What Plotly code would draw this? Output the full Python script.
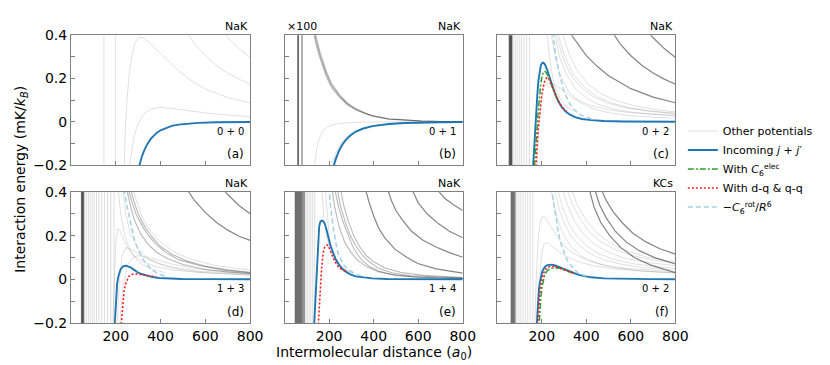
import plotly.graph_objects as go
from plotly.subplots import make_subplots

# Interaction potentials, energy in mK/kB vs distance R in bohr (a0)

# ---------- (a) NaK 0+0 ----------
A_IN_R = [300, 305, 316, 327, 340, 356, 370, 385, 400, 422, 450, 480, 520, 568, 650, 800]
A_IN_V = [-0.221, -0.2, -0.162, -0.132, -0.104, -0.079, -0.063, -0.049, -0.039, -0.029,
          -0.019, -0.013, -0.008, -0.005, -0.002, -0.0006]
A_WALLS = [147, 198]
A_LIGHT = [
    ([236, 242, 250, 260, 272, 285, 298, 308, 325, 350, 380, 420, 470, 530, 600, 700, 800],
     [-0.25, -0.05, 0.10, 0.22, 0.31, 0.36, 0.385, 0.39, 0.385, 0.365, 0.335, 0.295, 0.245, 0.195, 0.151, 0.112, 0.087]),
    ([258, 270, 280, 290, 300, 315, 330, 360, 400, 450, 500, 600, 700, 800],
     [-0.22, -0.132, -0.078, -0.039, -0.009, 0.02, 0.041, 0.060, 0.066, 0.062, 0.055, 0.041, 0.031, 0.024]),
    ([520, 550, 600, 650, 700, 750, 800], [0.41, 0.362, 0.305, 0.26, 0.225, 0.197, 0.173]),
    ([680, 700, 750, 800], [0.411, 0.388, 0.338, 0.297]),
]

# ---------- (b) NaK 0+1 (x100) ----------
B_IN_R = [215, 221, 230, 246, 260, 276, 295, 320, 350, 394, 468, 540, 615, 700, 800]
B_IN_V = [-0.223, -0.2, -0.171, -0.130, -0.104, -0.082, -0.063, -0.045, -0.032, -0.020,
          -0.0099, -0.0056, -0.0033, -0.002, -0.0012]
B_WALLS_DARK = [60, 61, 78]
B_LIGHT = [
    ([205, 212, 225, 245, 270, 300, 350, 420, 520, 650, 800],
     [-0.235, -0.2, -0.155, -0.11, -0.077, -0.052, -0.029, -0.014, -0.006, -0.0025, -0.001]),
    ([210, 217, 230, 250, 275, 305, 355, 425, 525, 650, 800],
     [-0.23, -0.2, -0.158, -0.115, -0.08, -0.054, -0.03, -0.015, -0.006, -0.0025, -0.001]),
    ([130, 137, 145, 155, 170, 190, 220, 260, 330, 450, 800],
     [-0.23, -0.17, -0.12, -0.08, -0.045, -0.024, -0.012, -0.006, -0.002, -0.0006, 0]),
]
B_BAND_R = [128, 140, 158, 175, 187, 210, 246, 280, 320, 360, 394, 468, 540, 615, 700, 800]
B_BAND = [
    [0.43, 0.36, 0.296, 0.24, 0.209, 0.16, 0.114, 0.08, 0.055, 0.038, 0.026, 0.012, 0.0065, 0.003, 0.0015, 0.0006],
    [0.45, 0.38, 0.31, 0.255, 0.222, 0.17, 0.12, 0.084, 0.058, 0.04, 0.028, 0.013, 0.007, 0.0035, 0.0017, 0.0007],
    [0.47, 0.40, 0.325, 0.268, 0.233, 0.178, 0.126, 0.088, 0.061, 0.042, 0.029, 0.014, 0.0075, 0.0037, 0.0018, 0.0008],
]

# ---------- (c) NaK 0+2 ----------
C_IN_R = [158, 161, 165, 170, 175, 180, 185, 190, 196, 202, 207, 214, 224, 235, 246, 260, 275,
          290, 305, 325, 349, 380, 422, 480, 568, 680, 800]
C_IN_V = [-0.26, -0.2, -0.12, -0.024, 0.06, 0.124, 0.19, 0.235, 0.262, 0.271, 0.273, 0.265, 0.241,
          0.205, 0.168, 0.128, 0.094, 0.068, 0.05, 0.034, 0.022, 0.013, 0.008, 0.004, 0.0015, 0.0005, 0]
C_C6_R = [163, 168, 173, 178, 184, 190, 196, 202, 209, 216, 224, 235, 246, 260, 275]
C_C6_V = [-0.26, -0.2, -0.12, -0.04, 0.05, 0.125, 0.18, 0.215, 0.232, 0.232, 0.22, 0.195, 0.164, 0.127, 0.094]
C_DQ_R = [170, 173, 178, 183, 188, 195, 202, 210, 217, 224, 232, 239, 250, 261, 275, 290, 310]
C_DQ_V = [-0.26, -0.2, -0.12, -0.05, 0.006, 0.08, 0.138, 0.178, 0.197, 0.204, 0.198, 0.182, 0.155,
          0.125, 0.095, 0.07, 0.047]
C_ROT_R = [245, 250, 262, 275, 286, 297, 308, 319, 330, 341, 352, 363, 380, 400, 430]
C_ROT_V = [0.45, 0.40, 0.31, 0.24, 0.19, 0.15, 0.12, 0.095, 0.076, 0.061, 0.049, 0.040, 0.030, 0.020, 0.012]
C_WALLS_DARK = [54, 57, 60, 63, 66]
C_WALLS_LIGHT = [75, 83, 92, 101, 110, 120, 132, 145]
C_LIGHT = [
    ([255, 280, 310, 350, 400, 460, 530, 620, 700, 800], [0.42, 0.30, 0.22, 0.155, 0.11, 0.078, 0.057, 0.042, 0.034, 0.028]),
    ([270, 300, 340, 390, 450, 520, 600, 700, 800], [0.42, 0.31, 0.22, 0.16, 0.115, 0.085, 0.063, 0.047, 0.037]),
    ([290, 320, 360, 410, 470, 540, 620, 700, 800], [0.42, 0.32, 0.235, 0.172, 0.127, 0.095, 0.073, 0.058, 0.046]),
    ([240, 260, 285, 320, 370, 430, 500, 600, 700, 800], [0.42, 0.3, 0.21, 0.14, 0.09, 0.06, 0.042, 0.028, 0.021, 0.017]),
    ([178, 185, 195, 210, 230, 260, 300, 350, 420, 500, 600, 800], [-0.25, -0.05, 0.1, 0.16, 0.18, 0.17, 0.14, 0.105, 0.075, 0.055, 0.042, 0.03]),
    ([222, 235, 250, 270, 300, 340], [0.42, 0.3, 0.2, 0.13, 0.08, 0.05]),
    ([262, 290, 325, 370, 425, 490, 570, 680, 800], [0.42, 0.31, 0.225, 0.165, 0.12, 0.088, 0.066, 0.05, 0.04]),
]
C_DARK = [
    ([320, 340, 370, 400, 450, 500, 600, 700, 800], [0.42, 0.39, 0.345, 0.305, 0.255, 0.213, 0.153, 0.114, 0.088]),
    ([520, 550, 600, 650, 700, 750, 800], [0.41, 0.362, 0.305, 0.26, 0.225, 0.197, 0.173]),
    ([680, 700, 750, 800], [0.411, 0.388, 0.338, 0.297]),
]

# ---------- (d) NaK 1+3 ----------
D_IN_R = [190, 196, 202, 206, 210, 215, 220, 227, 234, 246, 257, 268, 282, 297, 315, 334, 360, 393,
          440, 495, 600, 800]
D_IN_V = [-0.3, -0.2, -0.067, -0.02, 0.006, 0.028, 0.042, 0.053, 0.06, 0.062, 0.059, 0.053, 0.043,
          0.032, 0.024, 0.018, 0.011, 0.006, 0.003, 0.0015, 0.0005, 0]
D_DQ_R = [220, 224, 231, 237, 243, 250, 258, 266, 275, 290, 305, 325, 349, 380]
D_DQ_V = [-0.26, -0.2, -0.097, -0.055, -0.023, -0.002, 0.013, 0.02, 0.023, 0.024, 0.023, 0.021, 0.016, 0.011]
D_ROT_R = [234, 239, 250, 261, 272, 283, 294, 305, 320, 334, 349, 363, 380, 393, 420]
D_ROT_V = [0.45, 0.40, 0.335, 0.284, 0.226, 0.182, 0.15, 0.123, 0.095, 0.072, 0.055, 0.042, 0.031, 0.024, 0.014]
D_WALLS_DARK = [47, 50, 53, 56]
D_WALLS_LIGHT = [62, 70, 78, 86, 95, 104, 114, 125, 137, 150, 163, 178, 192]
D_LIGHT = [
    ([185, 192, 200, 210, 220, 235, 255, 280, 320, 380, 460, 560, 680, 800],
     [-0.25, 0.0, 0.17, 0.233, 0.22, 0.18, 0.14, 0.11, 0.08, 0.057, 0.042, 0.032, 0.025, 0.02]),
    ([205, 215, 228, 246, 265, 290, 330, 390, 470, 580, 800],
     [-0.25, -0.02, 0.11, 0.145, 0.14, 0.125, 0.1, 0.073, 0.052, 0.037, 0.024]),
    ([215, 230, 250, 275, 297, 330, 380, 450, 550, 680, 800],
     [-0.25, -0.05, 0.06, 0.098, 0.108, 0.104, 0.09, 0.07, 0.05, 0.036, 0.028]),
    ([230, 245, 265, 300, 350, 420, 500, 600, 800], [0.42, 0.3, 0.21, 0.14, 0.09, 0.06, 0.042, 0.03, 0.018]),
    ([210, 222, 240, 265, 300, 350, 420], [0.42, 0.3, 0.2, 0.13, 0.08, 0.05, 0.03]),
    ([275, 295, 320, 355, 400, 460, 540, 650, 800], [0.42, 0.35, 0.28, 0.22, 0.17, 0.125, 0.09, 0.062, 0.042]),
]
D_MID = [
    ([255, 270, 290, 320, 349, 380, 422, 480, 568, 680, 800], [0.42, 0.36, 0.30, 0.24, 0.196, 0.16, 0.123, 0.09, 0.064, 0.042, 0.03]),
    ([265, 280, 300, 330, 360, 400, 450, 520, 600, 700, 800], [0.42, 0.36, 0.30, 0.24, 0.196, 0.15, 0.115, 0.083, 0.06, 0.043, 0.032]),
    ([248, 262, 280, 310, 340, 380, 430, 500, 600, 700, 800], [0.42, 0.35, 0.28, 0.21, 0.165, 0.125, 0.095, 0.068, 0.045, 0.033, 0.026]),
]
D_DARK = [
    ([520, 550, 600, 650, 700, 750, 800], [0.41, 0.362, 0.305, 0.26, 0.225, 0.197, 0.178]),
    ([680, 700, 750, 800], [0.411, 0.388, 0.338, 0.30]),
]

# ---------- (e) NaK 1+4 ----------
E_IN_R = [128, 133, 137, 141, 144, 147, 151, 155, 160, 166, 172, 180, 188, 195, 205, 217, 230, 246,
          260, 275, 295, 319, 350, 393, 460, 560, 800]
E_IN_V = [-0.3, -0.2, -0.1, -0.023, 0.06, 0.123, 0.19, 0.24, 0.262, 0.269, 0.267, 0.255, 0.228,
          0.196, 0.157, 0.123, 0.09, 0.064, 0.047, 0.035, 0.022, 0.013, 0.008, 0.004, 0.0015, 0.0005, 0]
E_DQ_R = [147, 151, 155, 158, 162, 166, 171, 176, 182, 188, 192, 197, 202, 210, 217, 228, 239, 250, 261, 275]
E_DQ_V = [-0.28, -0.2, -0.12, -0.067, 0.0, 0.05, 0.1, 0.138, 0.15, 0.155, 0.157, 0.152, 0.138, 0.12,
          0.101, 0.078, 0.06, 0.05, 0.042, 0.035]
E_ROT_R = [194, 199, 205, 210, 217, 224, 232, 239, 250, 261, 275, 290, 310, 334, 360]
E_ROT_V = [0.46, 0.40, 0.345, 0.299, 0.245, 0.196, 0.155, 0.123, 0.093, 0.072, 0.055, 0.042, 0.029, 0.019, 0.012]
E_WALLS_DARK = [48, 52, 56, 60, 64, 68, 72, 77, 82, 88]
E_WALLS_LIGHT = [95, 102, 110, 118, 126, 135]
E_LIGHT = [
    ([180, 190, 200, 215, 235, 260, 300], [0.45, 0.3, 0.2, 0.13, 0.085, 0.055, 0.03]),
    ([165, 175, 188, 205, 228, 260, 310], [0.45, 0.3, 0.2, 0.13, 0.085, 0.05, 0.025]),
]
E_MID = [
    ([224, 240, 260, 285, 305, 330, 349, 380, 422, 480, 568, 680, 800], [0.42, 0.34, 0.27, 0.2, 0.152, 0.11, 0.085, 0.06, 0.038, 0.022, 0.012, 0.006, 0.004]),
    ([235, 250, 270, 295, 320, 349, 380, 422, 480, 568, 800], [0.42, 0.34, 0.27, 0.2, 0.152, 0.11, 0.08, 0.05, 0.03, 0.016, 0.006]),
    ([250, 265, 285, 310, 335, 365, 400, 450, 520, 620, 800], [0.42, 0.34, 0.27, 0.2, 0.152, 0.11, 0.08, 0.052, 0.032, 0.018, 0.008]),
    ([212, 225, 245, 270, 300, 330, 370, 420, 500, 600, 800], [0.42, 0.33, 0.24, 0.17, 0.12, 0.085, 0.057, 0.035, 0.018, 0.009, 0.004]),
]
E_DARK = [
    ([365, 380, 400, 422, 450, 495, 550, 598, 680, 800], [0.405, 0.35, 0.29, 0.235, 0.19, 0.138, 0.1, 0.072, 0.048, 0.028]),
    ([465, 480, 500, 530, 570, 620, 680, 740, 800], [0.405, 0.36, 0.315, 0.27, 0.22, 0.18, 0.148, 0.122, 0.101]),
    ([575, 600, 640, 690, 740, 800], [0.405, 0.35, 0.3, 0.255, 0.22, 0.19]),
    ([690, 720, 760, 800], [0.405, 0.37, 0.34, 0.315]),
]

# ---------- (f) KCs 0+2 ----------
F_IN_R = [172, 177, 180, 183, 187, 190, 195, 202, 210, 217, 225, 234, 246, 260, 275, 290, 305, 320,
          334, 349, 363, 380, 422, 480, 568, 680, 800]
F_IN_V = [-0.3, -0.2, -0.14, -0.097, -0.05, -0.023, 0.008, 0.035, 0.05, 0.06, 0.065, 0.067, 0.067,
          0.063, 0.057, 0.05, 0.042, 0.036, 0.03, 0.025, 0.021, 0.017, 0.009, 0.004, 0.0015, 0.0005, 0]
F_C6_R = [183, 188, 192, 196, 201, 207, 214, 222, 232, 245, 262, 280, 300, 320, 349]
F_C6_V = [-0.3, -0.2, -0.13, -0.08, -0.035, 0.0, 0.022, 0.036, 0.045, 0.051, 0.053, 0.05, 0.043, 0.036, 0.025]
F_DQ_R = [177, 182, 186, 190, 195, 200, 207, 215, 225, 235, 250, 265, 280, 300, 320, 349]
F_DQ_V = [-0.3, -0.2, -0.13, -0.075, -0.03, 0.0, 0.025, 0.042, 0.053, 0.058, 0.059, 0.056, 0.051,
          0.044, 0.036, 0.026]
F_ROT_R = [241, 246, 254, 261, 268, 275, 286, 297, 308, 319, 334, 349, 363, 378, 400]
F_ROT_V = [0.46, 0.40, 0.345, 0.299, 0.25, 0.211, 0.165, 0.13, 0.1, 0.079, 0.058, 0.042, 0.03, 0.022, 0.015]
F_WALLS_DARK = [63, 67, 71, 75, 80]
F_WALLS_LIGHT = [88, 97, 106, 116, 126, 137, 148, 160]
F_LIGHT = [
    ([168, 175, 185, 195, 205, 215, 230, 250, 275, 300, 340, 400, 480, 580, 800],
     [-0.25, 0.0, 0.2, 0.27, 0.29, 0.283, 0.26, 0.225, 0.185, 0.155, 0.12, 0.088, 0.065, 0.05, 0.035]),
    ([180, 190, 200, 210, 217, 230, 250, 275, 310, 360, 430, 520, 650, 800],
     [-0.25, 0.0, 0.12, 0.16, 0.167, 0.163, 0.148, 0.128, 0.105, 0.082, 0.062, 0.048, 0.037, 0.03]),
    ([255, 275, 300, 330, 370, 420, 480, 560, 660, 800], [0.42, 0.33, 0.26, 0.2, 0.152, 0.115, 0.088, 0.068, 0.053, 0.042]),
    ([270, 290, 320, 355, 400, 450, 520, 600, 700, 800], [0.42, 0.34, 0.26, 0.2, 0.155, 0.12, 0.092, 0.073, 0.059, 0.05]),
    ([290, 315, 345, 385, 430, 490, 560, 650, 800], [0.42, 0.34, 0.27, 0.21, 0.165, 0.128, 0.1, 0.08, 0.062]),
    ([310, 335, 370, 410, 460, 520, 600, 700, 800], [0.42, 0.35, 0.28, 0.22, 0.175, 0.14, 0.11, 0.088, 0.074]),
    ([240, 255, 275, 300, 335, 380, 440, 520, 640, 800], [0.42, 0.34, 0.26, 0.2, 0.145, 0.105, 0.075, 0.054, 0.039, 0.028]),
    ([330, 360, 400, 450, 510, 580, 670, 800], [0.42, 0.34, 0.27, 0.21, 0.165, 0.13, 0.102, 0.08]),
]
F_DARK = [
    ([470, 490, 520, 560, 610, 670, 730, 800], [0.405, 0.36, 0.31, 0.26, 0.21, 0.17, 0.14, 0.115]),
    ([440, 460, 490, 530, 580, 640, 710, 800], [0.405, 0.34, 0.28, 0.22, 0.17, 0.13, 0.098, 0.07]),
    ([415, 435, 465, 505, 555, 615, 690, 800], [0.405, 0.33, 0.26, 0.2, 0.145, 0.1, 0.065, 0.03]),
]

MOLECULES = ["NaK", "NaK", "NaK", "NaK", "NaK", "KCs"]
CHANNELS = ["0 + 0", "0 + 1", "0 + 2", "1 + 3", "1 + 4", "0 + 2"]
TAGS = ["(a)", "(b)", "(c)", "(d)", "(e)", "(f)"]
X_TICKS = [200, 400, 600, 800]
Y_TICKS = [-0.2, 0, 0.2, 0.4]
Y_TICKTEXT = ["\u22120.2", "0", "0.2", "0.4"]
Y_MINOR = [-0.1, 0.1, 0.3]

LIGHT = "rgba(0,0,0,0.14)"
MID = "rgba(0,0,0,0.28)"
DARK = "rgba(0,0,0,0.48)"
BLUE = "#1f77b4"
GREEN = "#2ca02c"
RED = "#ff1a1a"
SKY = "#a6cee3"
FONT = "DejaVu Sans"

panels = [
    dict(inc=(A_IN_R, A_IN_V), light=A_LIGHT, walls_l=A_WALLS),
    dict(inc=(B_IN_R, B_IN_V), light=B_LIGHT, mid=[(B_BAND_R, v) for v in B_BAND], walls_d=B_WALLS_DARK),
    dict(inc=(C_IN_R, C_IN_V), c6=(C_C6_R, C_C6_V), dq=(C_DQ_R, C_DQ_V), rot=(C_ROT_R, C_ROT_V),
         light=C_LIGHT, dark=C_DARK, walls_l=C_WALLS_LIGHT, walls_d=C_WALLS_DARK),
    dict(inc=(D_IN_R, D_IN_V), dq=(D_DQ_R, D_DQ_V), rot=(D_ROT_R, D_ROT_V),
         light=D_LIGHT, mid=D_MID, dark=D_DARK, walls_l=D_WALLS_LIGHT, walls_d=D_WALLS_DARK),
    dict(inc=(E_IN_R, E_IN_V), dq=(E_DQ_R, E_DQ_V), rot=(E_ROT_R, E_ROT_V),
         light=E_LIGHT, mid=E_MID, dark=E_DARK, walls_l=E_WALLS_LIGHT, walls_d=E_WALLS_DARK),
    dict(inc=(F_IN_R, F_IN_V), c6=(F_C6_R, F_C6_V), dq=(F_DQ_R, F_DQ_V), rot=(F_ROT_R, F_ROT_V),
         light=F_LIGHT, dark=F_DARK, walls_l=F_WALLS_LIGHT, walls_d=F_WALLS_DARK),
]

fig = make_subplots(rows=2, cols=3)

X_DOM = [[0.0771, 0.2964], [0.3386, 0.5566], [0.5988, 0.8169]]
Y_DOM = [[0.5726, 0.9452], [0.1205, 0.4959]]

legend_done = set()


def line(k, x, y, color, width, dash="solid", name=None, rank=None):
    row, col = (k - 1) // 3 + 1, (k - 1) % 3 + 1
    show = name is not None and name not in legend_done
    if show:
        legend_done.add(name)
    fig.add_trace(go.Scatter(x=x, y=y, mode="lines", line=dict(color=color, width=width, dash=dash),
                             name=name, showlegend=show, legendrank=rank, hoverinfo="skip"),
                  row=row, col=col)


for k, p in enumerate(panels, start=1):
    for r in p.get("walls_d", []):
        line(k, [r, r], [0.45, -0.25], DARK, 1.3)
    for r in p.get("walls_l", []):
        line(k, [r, r], [0.45, -0.25], LIGHT, 0.9, name="Other potentials", rank=1)
    for x, y in p.get("light", []):
        line(k, x, y, LIGHT, 0.9, name="Other potentials", rank=1)
    for x, y in p.get("mid", []):
        line(k, x, y, MID, 1.1)
    for x, y in p.get("dark", []):
        line(k, x, y, DARK, 1.2)
    line(k, *p["inc"], BLUE, 1.9, name="Incoming <i>j</i> + <i>j</i>\u2032", rank=2)
    if "c6" in p:
        line(k, *p["c6"], GREEN, 1.5, "6px,2px,2px,2px",
             name="With <i>C</i><sub>6</sub><sup>elec</sup>", rank=3)
    if "dq" in p:
        line(k, *p["dq"], RED, 1.6, "2px,2px", name="With d-q & q-q", rank=4)
    if "rot" in p:
        line(k, *p["rot"], SKY, 1.5, "5px,3px",
             name="\u2212<i>C</i><sub>6</sub><sup>rot</sup>/<i>R</i><sup>6</sup>", rank=5)

annotations = []
for k in range(1, 7):
    row, col = (k - 1) // 3, (k - 1) % 3
    xa = "xaxis" if k == 1 else f"xaxis{k}"
    ya = "yaxis" if k == 1 else f"yaxis{k}"
    fig.layout[xa].update(
        domain=X_DOM[col], range=[0, 800], tickvals=X_TICKS, showticklabels=(row == 1),
        ticks="inside", ticklen=4, tickcolor="#808080", showline=True, linecolor="#808080",
        linewidth=1, mirror=True, showgrid=False, zeroline=False,
        tickfont=dict(family=FONT, size=14, color="black"))
    fig.layout[ya].update(
        domain=Y_DOM[row], range=[-0.2, 0.4], tickvals=Y_TICKS, ticktext=Y_TICKTEXT,
        minor=dict(tickvals=Y_MINOR, ticks="inside", ticklen=4, tickcolor="#808080", showgrid=False),
        showticklabels=(col == 0), ticks="inside", ticklen=4, tickcolor="#808080",
        showline=True, linecolor="#808080", linewidth=1, mirror=True, showgrid=False,
        zeroline=False, tickfont=dict(family=FONT, size=14, color="black"))
    xr = "x domain" if k == 1 else f"x{k} domain"
    yr = "y domain" if k == 1 else f"y{k} domain"
    annotations += [
        dict(text=MOLECULES[k - 1], x=1.0, y=1.0, xref=xr, yref=yr, xanchor="right",
             yanchor="bottom", showarrow=False, font=dict(size=11)),
        dict(text=CHANNELS[k - 1], x=0.976, y=0.26, xref=xr, yref=yr, xanchor="right",
             yanchor="middle", showarrow=False, font=dict(size=10)),
        dict(text=TAGS[k - 1], x=0.976, y=0.086, xref=xr, yref=yr, xanchor="right",
             yanchor="middle", showarrow=False, font=dict(size=12)),
    ]

annotations += [
    dict(text="\u00d7100", x=0.0, y=1.0, xref="x2 domain", yref="y2 domain", xanchor="left",
         yanchor="bottom", showarrow=False, font=dict(size=11)),
    dict(text="Intermolecular distance (<i>a</i><sub>0</sub>)", x=0.4476, y=0.035, xref="paper",
         yref="paper", xanchor="center", yanchor="middle", showarrow=False, font=dict(size=14)),
    dict(text="Interaction energy (mK/<i>k</i><sub><i>B</i></sub>)", x=0.0157, y=0.533,
         xref="paper", yref="paper", xanchor="center", yanchor="middle", textangle=-90,
         showarrow=False, font=dict(size=14)),
]

fig.update_layout(
    width=830, height=365, margin=dict(l=0, r=0, t=0, b=0),
    paper_bgcolor="white", plot_bgcolor="white",
    font=dict(family=FONT, color="black"),
    annotations=annotations,
    legend=dict(x=0.826, y=0.712, xanchor="left", yanchor="top", font=dict(size=11),
                tracegroupgap=0, bgcolor="rgba(0,0,0,0)"),
)

fig.write_html("out.html")
